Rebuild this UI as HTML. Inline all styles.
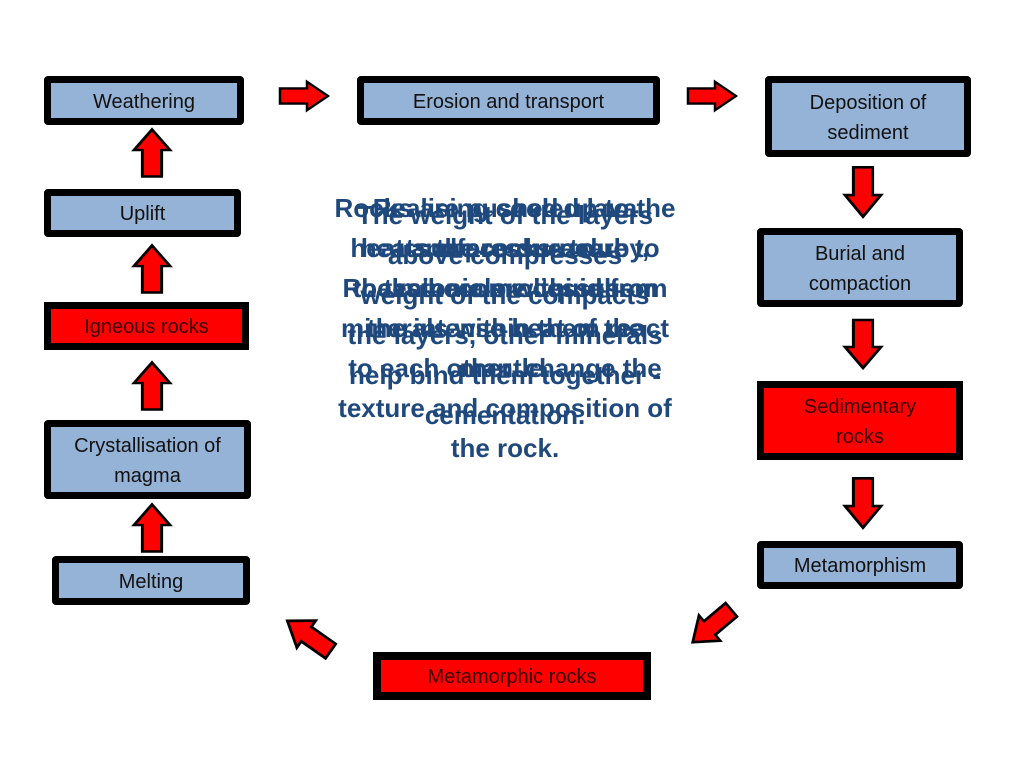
<!DOCTYPE html>
<html><head><meta charset="utf-8"><style>
body{margin:0;width:1024px;height:768px;background:#fff;position:relative;overflow:hidden;font-family:"Liberation Sans",sans-serif}
.b{position:absolute;box-sizing:border-box;border:7px solid #000;border-radius:4px;background:#95b3d7;color:#111;font-size:20px;display:flex;align-items:center;justify-content:center;text-align:center;line-height:30px;padding-top:2px}
.r{background:#ff0000;color:#3a0000;border-radius:0}
.t{position:absolute;left:300px;width:410px;text-align:center;color:#1f497d;font-weight:bold;font-size:26px;line-height:40px}
svg{position:absolute;left:0;top:0}
</style></head><body>
<div class="b" style="left:44px;top:76px;width:200px;height:49px">Weathering</div>
<div class="b" style="left:357px;top:76px;width:303px;height:49px">Erosion and transport</div>
<div class="b" style="left:765px;top:76px;width:206px;height:81px">Deposition of<br>sediment</div>
<div class="b" style="left:44px;top:189px;width:197px;height:48px">Uplift</div>
<div class="b r" style="left:44px;top:302px;width:205px;height:48px">Igneous rocks</div>
<div class="b" style="left:44px;top:420px;width:207px;height:79px">Crystallisation of<br>magma</div>
<div class="b" style="left:52px;top:556px;width:198px;height:49px">Melting</div>
<div class="b" style="left:757px;top:228px;width:206px;height:79px">Burial and<br>compaction</div>
<div class="b r" style="left:757px;top:381px;width:206px;height:79px">Sedimentary<br>rocks</div>
<div class="b" style="left:757px;top:541px;width:206px;height:48px">Metamorphism</div>
<div class="b r" style="left:373px;top:652px;width:278px;height:48px;border-width:8px">Metamorphic rocks</div>

<div class="t" style="top:188px">Rocks are pushed up to the<br>surface due to<br>tectonic processes.</div>
<div class="t" style="top:188px">Realising cooled lava<br>heats the rocks nearby,<br>the minerals within them</div>
<div class="t" style="top:195px">The weight of the layers<br>above compresses<br>weight of the compacts<br>the layers, other minerals<br>help bind them together -<br>cementation.</div>
<div class="t" style="top:228px">heat and pressure due to<br>Rocks become liquid from<br>the intense heat of the<br>mantle.</div>
<div class="t" style="top:308px">minerals within them react<br>to each other, change the<br>texture and composition of<br>the rock.</div>

<svg width="1024" height="768">
<defs><polygon id="a" points="-24,-8 3,-8 3,-15 24,0 3,15 3,8 -24,8" fill="#ff0000" stroke="#000" stroke-width="2.5" stroke-linejoin="miter"/></defs>
<use href="#a" transform="translate(304,96) scale(1,0.95)"/>
<use href="#a" transform="translate(712,96) scale(1,0.95)"/>
<use href="#a" transform="translate(863,192) rotate(90) scale(1.03,1.2)"/>
<use href="#a" transform="translate(863,344) rotate(90) scale(1,1.2)"/>
<use href="#a" transform="translate(863,503) rotate(90) scale(1.03,1.2)"/>
<use href="#a" transform="translate(152,153) rotate(-90) scale(0.98,1.2)"/>
<use href="#a" transform="translate(152,269) rotate(-90) scale(0.98,1.2)"/>
<use href="#a" transform="translate(152,386) rotate(-90) scale(0.98,1.2)"/>
<use href="#a" transform="translate(152,528) rotate(-90) scale(0.98,1.2)"/>
<use href="#a" transform="translate(309,636) rotate(-145) scale(1.1,1.1)"/>
<use href="#a" transform="translate(712,626) rotate(140) scale(1.05,1.1)"/>
</svg>
</body></html>
